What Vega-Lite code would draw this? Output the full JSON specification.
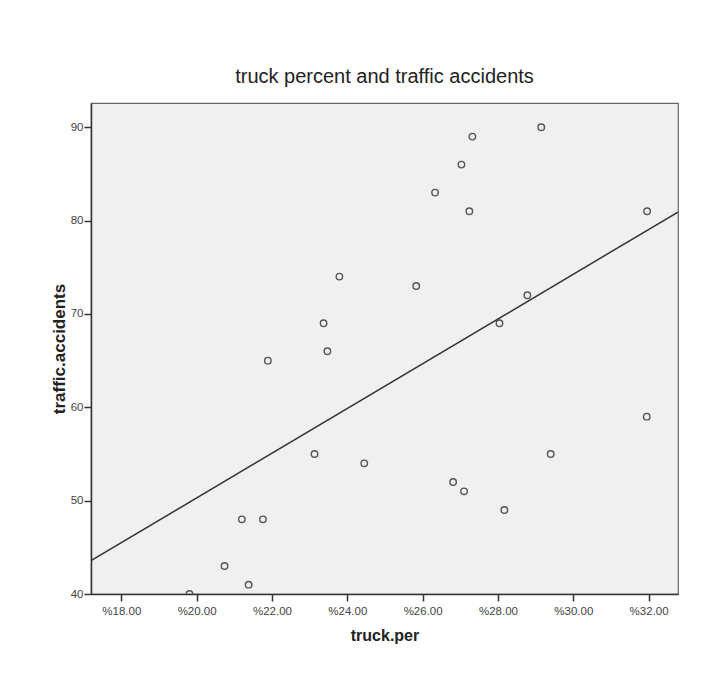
{
  "$schema": "https://vega.github.io/schema/vega-lite/v6.json",
  "autosize": {"type": "none"},
  "width": 587,
  "height": 491,
  "padding": {"left": 91, "top": 103, "right": 23, "bottom": 91},
  "background": "white",
  "title": {
    "text": "truck percent and traffic accidents",
    "font": "Liberation Sans",
    "fontSize": 20,
    "fontWeight": "normal",
    "color": "#222222",
    "offset": 16,
    "anchor": "middle"
  },
  "data": {
    "values": [
      {"truck_per": 19.81, "traffic_accidents": 40},
      {"truck_per": 20.74, "traffic_accidents": 43},
      {"truck_per": 21.20, "traffic_accidents": 48},
      {"truck_per": 21.38, "traffic_accidents": 41},
      {"truck_per": 21.76, "traffic_accidents": 48},
      {"truck_per": 21.89, "traffic_accidents": 65},
      {"truck_per": 23.13, "traffic_accidents": 55},
      {"truck_per": 23.37, "traffic_accidents": 69},
      {"truck_per": 23.47, "traffic_accidents": 66},
      {"truck_per": 23.79, "traffic_accidents": 74},
      {"truck_per": 24.45, "traffic_accidents": 54},
      {"truck_per": 25.83, "traffic_accidents": 73},
      {"truck_per": 26.33, "traffic_accidents": 83},
      {"truck_per": 26.81, "traffic_accidents": 52},
      {"truck_per": 27.03, "traffic_accidents": 86},
      {"truck_per": 27.10, "traffic_accidents": 51},
      {"truck_per": 27.24, "traffic_accidents": 81},
      {"truck_per": 27.32, "traffic_accidents": 89},
      {"truck_per": 28.04, "traffic_accidents": 69},
      {"truck_per": 28.17, "traffic_accidents": 49},
      {"truck_per": 28.78, "traffic_accidents": 72},
      {"truck_per": 29.15, "traffic_accidents": 90},
      {"truck_per": 29.40, "traffic_accidents": 55},
      {"truck_per": 31.95, "traffic_accidents": 59},
      {"truck_per": 31.96, "traffic_accidents": 81}
    ]
  },
  "encoding": {
    "x": {
      "field": "truck_per",
      "type": "quantitative",
      "scale": {"domain": [17.195, 32.78], "nice": false, "zero": false},
      "axis": {
        "title": "truck.per",
        "titleFontSize": 16,
        "values": [18, 20, 22, 24, 26, 28, 30, 32],
        "labelExpr": "'%' + format(datum.value, '.2f')",
        "grid": false,
        "labelPadding": 4,
        "titlePadding": 11
      }
    },
    "y": {
      "field": "traffic_accidents",
      "type": "quantitative",
      "scale": {"domain": [40, 92.6], "nice": false, "zero": false},
      "axis": {
        "title": "traffic.accidents",
        "titleFontSize": 17,
        "values": [40, 50, 60, 70, 80, 90],
        "grid": false,
        "labelPadding": 1,
        "titlePadding": 2
      }
    }
  },
  "layer": [
    {
      "mark": {
        "type": "point",
        "shape": "circle",
        "filled": false,
        "size": 42,
        "stroke": "#555555",
        "strokeWidth": 1.4,
        "opacity": 1,
        "clip": true
      }
    },
    {
      "transform": [
        {"regression": "traffic_accidents", "on": "truck_per", "extent": [17.195, 32.78]}
      ],
      "mark": {"type": "line", "color": "#333333", "strokeWidth": 1.5, "clip": true}
    }
  ],
  "config": {
    "view": {"fill": "#f0f0f0", "stroke": "#666666", "strokeWidth": 1.2},
    "axis": {
      "domainColor": "#333333",
      "domainWidth": 1.5,
      "tickColor": "#333333",
      "tickWidth": 1.5,
      "tickSize": 7,
      "labelFont": "Liberation Sans",
      "labelFontSize": 11.5,
      "labelColor": "#444444",
      "titleFont": "Liberation Sans",
      "titleFontWeight": "bold",
      "titleColor": "#222222"
    }
  }
}
